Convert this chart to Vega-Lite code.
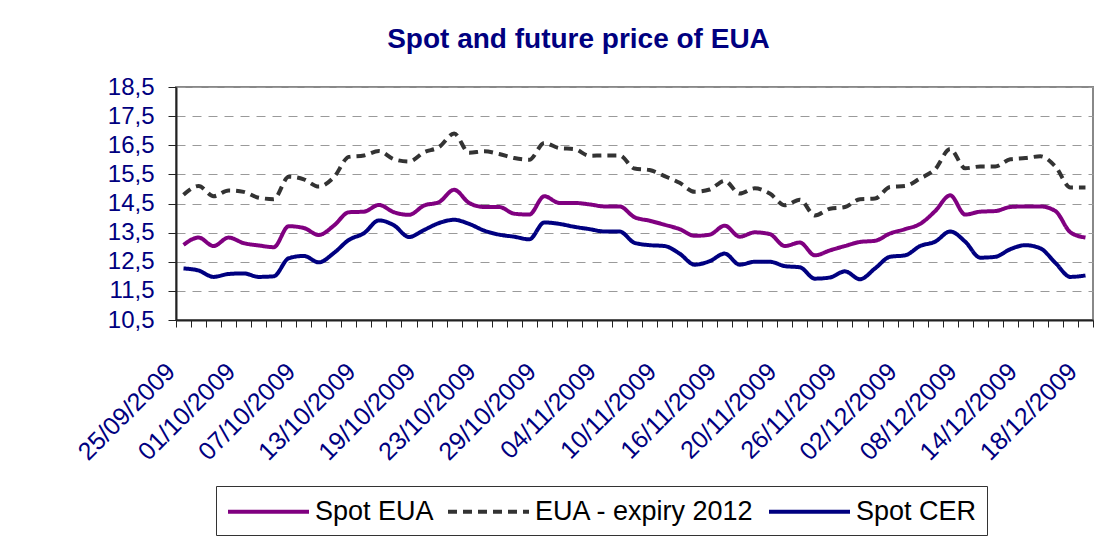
{
  "$schema": "https://vega.github.io/schema/vega-lite/v6.json",
  "width": 917,
  "height": 233,
  "autosize": {"type": "none"},
  "padding": {"left": 176, "top": 87, "right": 26, "bottom": 240},
  "background": "white",
  "title": {
    "text": "Spot and future price of EUA",
    "font": "Liberation Sans",
    "fontSize": 28,
    "fontWeight": "bold",
    "color": "#000080",
    "anchor": "middle",
    "frame": "group",
    "dx": -56,
    "offset": 21
  },
  "data": {
    "values": [
      {"date": "25/09/2009", "Spot EUA": 13.08, "EUA - expiry 2012": 14.8, "Spot CER": 12.27},
      {"date": "28/09/2009", "Spot EUA": 13.33, "EUA - expiry 2012": 15.1, "Spot CER": 12.2},
      {"date": "29/09/2009", "Spot EUA": 13.04, "EUA - expiry 2012": 14.75, "Spot CER": 11.98},
      {"date": "30/09/2009", "Spot EUA": 13.33, "EUA - expiry 2012": 14.95, "Spot CER": 12.08},
      {"date": "01/10/2009", "Spot EUA": 13.14, "EUA - expiry 2012": 14.9, "Spot CER": 12.1},
      {"date": "02/10/2009", "Spot EUA": 13.06, "EUA - expiry 2012": 14.7, "Spot CER": 11.98},
      {"date": "05/10/2009", "Spot EUA": 13.0, "EUA - expiry 2012": 14.65, "Spot CER": 12.0},
      {"date": "06/10/2009", "Spot EUA": 13.72, "EUA - expiry 2012": 15.42, "Spot CER": 12.62},
      {"date": "07/10/2009", "Spot EUA": 13.66, "EUA - expiry 2012": 15.33, "Spot CER": 12.7},
      {"date": "08/10/2009", "Spot EUA": 13.42, "EUA - expiry 2012": 15.08, "Spot CER": 12.48},
      {"date": "09/10/2009", "Spot EUA": 13.74, "EUA - expiry 2012": 15.4, "Spot CER": 12.8},
      {"date": "12/10/2009", "Spot EUA": 14.2, "EUA - expiry 2012": 16.1, "Spot CER": 13.25},
      {"date": "13/10/2009", "Spot EUA": 14.22, "EUA - expiry 2012": 16.15, "Spot CER": 13.48},
      {"date": "14/10/2009", "Spot EUA": 14.45, "EUA - expiry 2012": 16.3, "Spot CER": 13.92},
      {"date": "15/10/2009", "Spot EUA": 14.2, "EUA - expiry 2012": 16.02, "Spot CER": 13.75},
      {"date": "16/10/2009", "Spot EUA": 14.11, "EUA - expiry 2012": 15.94, "Spot CER": 13.35},
      {"date": "19/10/2009", "Spot EUA": 14.43, "EUA - expiry 2012": 16.26, "Spot CER": 13.59},
      {"date": "20/10/2009", "Spot EUA": 14.55, "EUA - expiry 2012": 16.44, "Spot CER": 13.83},
      {"date": "21/10/2009", "Spot EUA": 14.97, "EUA - expiry 2012": 16.9, "Spot CER": 13.94},
      {"date": "22/10/2009", "Spot EUA": 14.52, "EUA - expiry 2012": 16.24, "Spot CER": 13.8},
      {"date": "23/10/2009", "Spot EUA": 14.38, "EUA - expiry 2012": 16.29, "Spot CER": 13.57},
      {"date": "26/10/2009", "Spot EUA": 14.38, "EUA - expiry 2012": 16.2, "Spot CER": 13.43},
      {"date": "27/10/2009", "Spot EUA": 14.15, "EUA - expiry 2012": 16.06, "Spot CER": 13.36},
      {"date": "28/10/2009", "Spot EUA": 14.12, "EUA - expiry 2012": 16.0, "Spot CER": 13.27},
      {"date": "29/10/2009", "Spot EUA": 14.75, "EUA - expiry 2012": 16.58, "Spot CER": 13.85},
      {"date": "30/10/2009", "Spot EUA": 14.52, "EUA - expiry 2012": 16.4, "Spot CER": 13.8},
      {"date": "02/11/2009", "Spot EUA": 14.52, "EUA - expiry 2012": 16.37, "Spot CER": 13.7},
      {"date": "03/11/2009", "Spot EUA": 14.47, "EUA - expiry 2012": 16.14, "Spot CER": 13.62},
      {"date": "04/11/2009", "Spot EUA": 14.4, "EUA - expiry 2012": 16.15, "Spot CER": 13.54},
      {"date": "05/11/2009", "Spot EUA": 14.4, "EUA - expiry 2012": 16.15, "Spot CER": 13.54},
      {"date": "06/11/2009", "Spot EUA": 14.03, "EUA - expiry 2012": 15.7, "Spot CER": 13.15},
      {"date": "09/11/2009", "Spot EUA": 13.91, "EUA - expiry 2012": 15.65, "Spot CER": 13.07},
      {"date": "10/11/2009", "Spot EUA": 13.77, "EUA - expiry 2012": 15.44, "Spot CER": 13.04},
      {"date": "11/11/2009", "Spot EUA": 13.62, "EUA - expiry 2012": 15.21, "Spot CER": 12.78},
      {"date": "12/11/2009", "Spot EUA": 13.39, "EUA - expiry 2012": 14.9, "Spot CER": 12.4},
      {"date": "13/11/2009", "Spot EUA": 13.43, "EUA - expiry 2012": 14.98, "Spot CER": 12.52},
      {"date": "16/11/2009", "Spot EUA": 13.74, "EUA - expiry 2012": 15.28, "Spot CER": 12.78},
      {"date": "17/11/2009", "Spot EUA": 13.36, "EUA - expiry 2012": 14.84, "Spot CER": 12.4},
      {"date": "18/11/2009", "Spot EUA": 13.51, "EUA - expiry 2012": 15.02, "Spot CER": 12.5},
      {"date": "19/11/2009", "Spot EUA": 13.45, "EUA - expiry 2012": 14.84, "Spot CER": 12.5},
      {"date": "20/11/2009", "Spot EUA": 13.04, "EUA - expiry 2012": 14.44, "Spot CER": 12.35},
      {"date": "23/11/2009", "Spot EUA": 13.16, "EUA - expiry 2012": 14.63, "Spot CER": 12.31},
      {"date": "24/11/2009", "Spot EUA": 12.72, "EUA - expiry 2012": 14.09, "Spot CER": 11.92},
      {"date": "25/11/2009", "Spot EUA": 12.89, "EUA - expiry 2012": 14.32, "Spot CER": 11.96},
      {"date": "26/11/2009", "Spot EUA": 13.04, "EUA - expiry 2012": 14.38, "Spot CER": 12.17},
      {"date": "27/11/2009", "Spot EUA": 13.18, "EUA - expiry 2012": 14.65, "Spot CER": 11.9},
      {"date": "30/11/2009", "Spot EUA": 13.22, "EUA - expiry 2012": 14.67, "Spot CER": 12.27},
      {"date": "01/12/2009", "Spot EUA": 13.47, "EUA - expiry 2012": 15.07, "Spot CER": 12.67},
      {"date": "02/12/2009", "Spot EUA": 13.62, "EUA - expiry 2012": 15.1, "Spot CER": 12.72},
      {"date": "03/12/2009", "Spot EUA": 13.8, "EUA - expiry 2012": 15.36, "Spot CER": 13.04},
      {"date": "04/12/2009", "Spot EUA": 14.24, "EUA - expiry 2012": 15.68, "Spot CER": 13.19},
      {"date": "07/12/2009", "Spot EUA": 14.78, "EUA - expiry 2012": 16.37, "Spot CER": 13.54},
      {"date": "08/12/2009", "Spot EUA": 14.12, "EUA - expiry 2012": 15.71, "Spot CER": 13.19},
      {"date": "09/12/2009", "Spot EUA": 14.22, "EUA - expiry 2012": 15.77, "Spot CER": 12.64},
      {"date": "10/12/2009", "Spot EUA": 14.24, "EUA - expiry 2012": 15.77, "Spot CER": 12.67},
      {"date": "11/12/2009", "Spot EUA": 14.38, "EUA - expiry 2012": 16.02, "Spot CER": 12.93},
      {"date": "14/12/2009", "Spot EUA": 14.4, "EUA - expiry 2012": 16.06, "Spot CER": 13.07},
      {"date": "15/12/2009", "Spot EUA": 14.4, "EUA - expiry 2012": 16.12, "Spot CER": 12.96},
      {"date": "16/12/2009", "Spot EUA": 14.24, "EUA - expiry 2012": 15.77, "Spot CER": 12.46},
      {"date": "17/12/2009", "Spot EUA": 13.51, "EUA - expiry 2012": 15.05, "Spot CER": 11.98},
      {"date": "18/12/2009", "Spot EUA": 13.33, "EUA - expiry 2012": 15.05, "Spot CER": 12.03}
    ]
  },
  "transform": [
    {"fold": ["Spot EUA", "EUA - expiry 2012", "Spot CER"], "as": ["series", "price"]}
  ],
  "mark": {"type": "line", "interpolate": "monotone", "strokeWidth": 4},
  "encoding": {
    "x": {
      "field": "date",
      "type": "ordinal",
      "sort": null,
      "bandPosition": 0.5,
      "scale": {"type": "band", "paddingInner": 0, "paddingOuter": 0},
      "axis": {
        "title": null,
        "grid": false,
        "labelAngle": -45,
        "labelAlign": "right",
        "labelBaseline": "middle",
        "labelFont": "Liberation Sans",
        "labelFontSize": 25,
        "labelColor": "#000080",
        "labelPadding": 40,
        "labelOffset": -13,
        "labelOverlap": false,
        "labelBound": false,
        "labelFlush": false,
        "tickBand": "extent",
        "tickSize": 7,
        "tickColor": "#222222",
        "tickWidth": 1,
        "domainColor": "#222222",
        "domainWidth": 2,
        "labelExpr": "indexof(['25/09/2009','01/10/2009','07/10/2009','13/10/2009','19/10/2009','23/10/2009','29/10/2009','04/11/2009','10/11/2009','16/11/2009','20/11/2009','26/11/2009','02/12/2009','08/12/2009','14/12/2009','18/12/2009'], datum.value) >= 0 ? datum.value : ''"
      }
    },
    "y": {
      "field": "price",
      "type": "quantitative",
      "scale": {"domain": [10.5, 18.5], "nice": false, "zero": false},
      "axis": {
        "title": null,
        "values": [10.5, 11.5, 12.5, 13.5, 14.5, 15.5, 16.5, 17.5, 18.5],
        "labelExpr": "replace(format(datum.value, '.1f'), '.', ',')",
        "labelFont": "Liberation Sans",
        "labelFontSize": 24,
        "labelColor": "#000080",
        "labelPadding": 14,
        "tickSize": 8,
        "tickColor": "#222222",
        "domainColor": "#222222",
        "domainWidth": 2,
        "grid": true,
        "gridColor": "#9a9a9a",
        "gridDash": [9, 7],
        "gridWidth": 1
      }
    },
    "color": {
      "field": "series",
      "type": "nominal",
      "scale": {"domain": ["Spot EUA", "EUA - expiry 2012", "Spot CER"], "range": ["#800080", "#333333", "#000080"]},
      "legend": {
        "title": null,
        "orient": "none",
        "legendX": 40,
        "legendY": 399,
        "direction": "horizontal",
        "symbolType": "M-1,0H5",
        "symbolSize": 729,
        "symbolStrokeWidth": 4,
        "labelFont": "Liberation Sans",
        "labelFontSize": 27,
        "labelLimit": 500,
        "labelColor": "#000000",
        "labelOffset": 58,
        "columnPadding": 6,
        "padding": 10,
        "strokeColor": "#333333"
      }
    },
    "strokeDash": {
      "field": "series",
      "type": "nominal",
      "scale": {"domain": ["Spot EUA", "EUA - expiry 2012", "Spot CER"], "range": [[1, 0], [9, 6], [1, 0]]},
      "legend": {
        "title": null,
        "orient": "none",
        "legendX": 40,
        "legendY": 399,
        "direction": "horizontal",
        "symbolType": "M-1,0H5",
        "symbolSize": 729,
        "symbolStrokeWidth": 4,
        "labelFont": "Liberation Sans",
        "labelFontSize": 27,
        "labelLimit": 500,
        "labelColor": "#000000",
        "labelOffset": 58,
        "columnPadding": 6,
        "padding": 10,
        "strokeColor": "#333333"
      }
    }
  },
  "config": {"view": {"stroke": "#888888", "strokeWidth": 2}}
}
